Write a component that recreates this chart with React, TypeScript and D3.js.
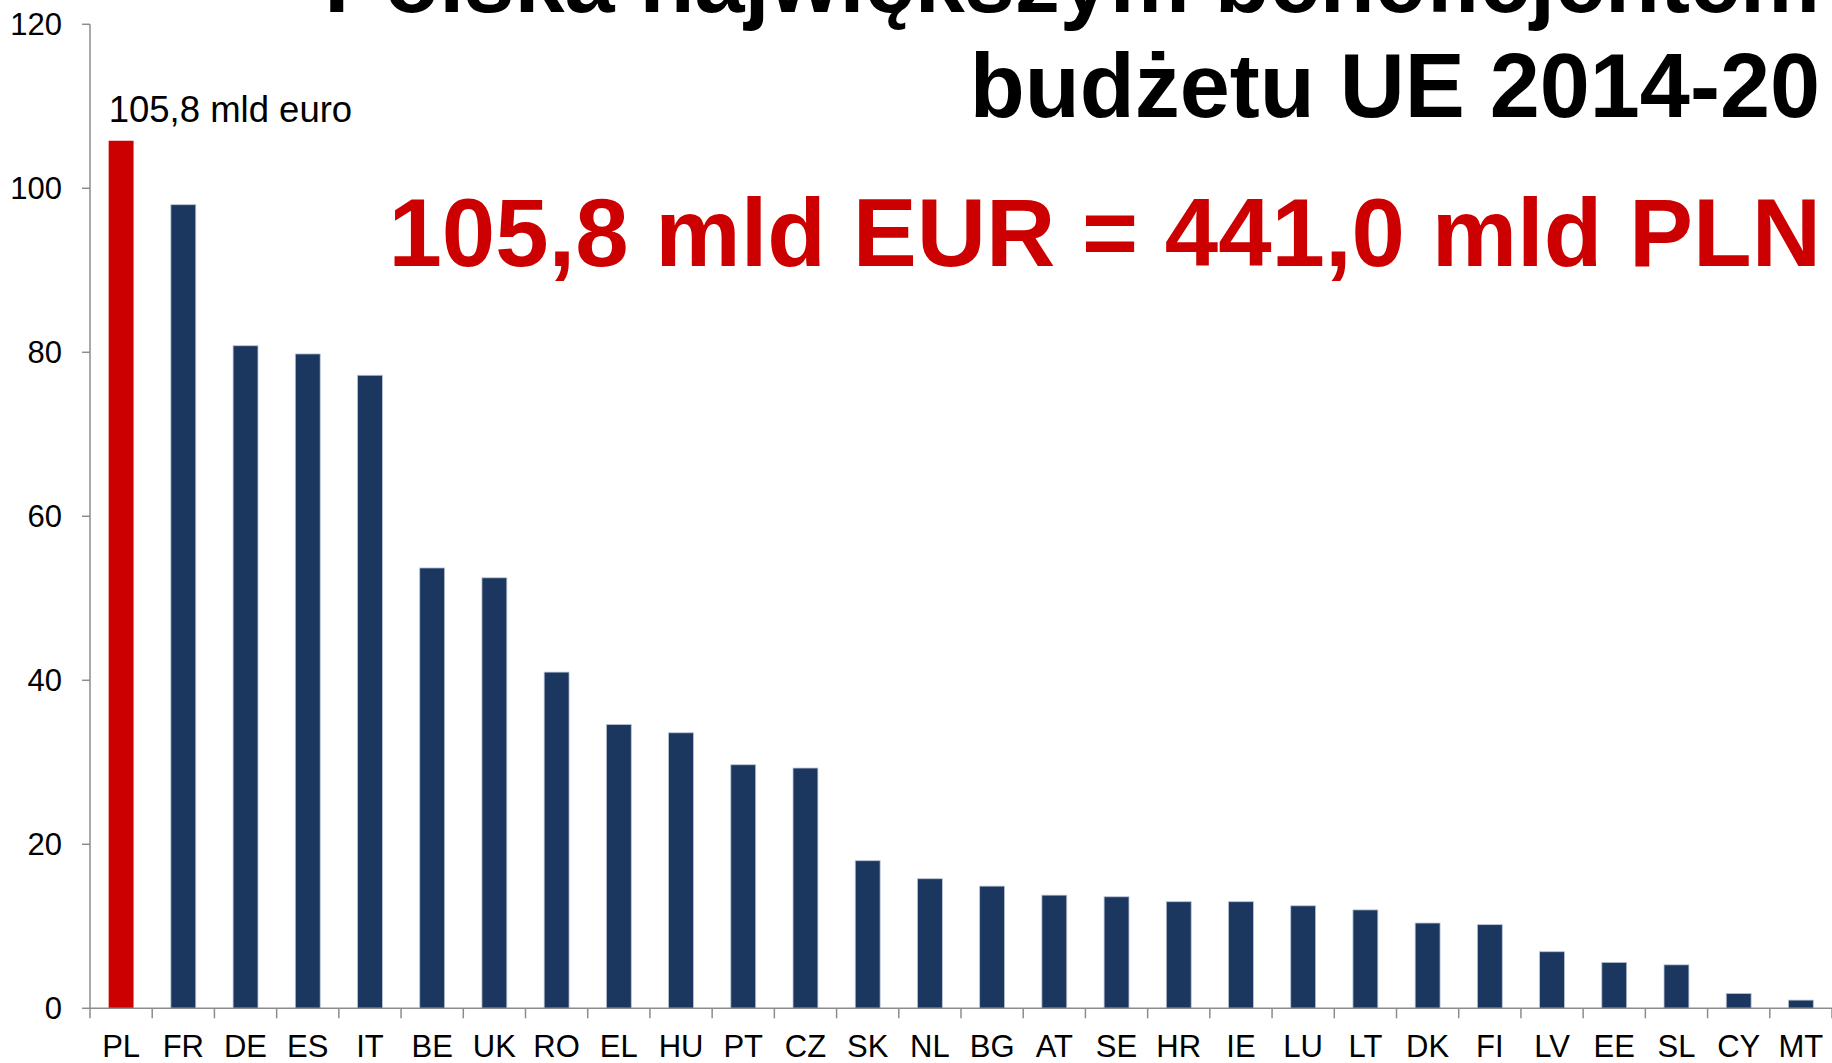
import React from "react";
import * as d3 from "d3";

const countries = ["PL","FR","DE","ES","IT","BE","UK","RO","EL","HU","PT","CZ","SK","NL","BG","AT","SE","HR","IE","LU","LT","DK","FI","LV","EE","SL","CY","MT"];
const values = [105.8,98.0,80.8,79.8,77.2,53.7,52.5,41.0,34.6,33.6,29.7,29.3,18.0,15.8,14.9,13.8,13.6,13.0,13.0,12.5,12.0,10.4,10.2,6.9,5.6,5.3,1.8,1.0];
const yTicks = [0,20,40,60,80,100,120];
const titleLines = ["Polska największym beneficjentem","budżetu UE 2014-20"];
const subtitle = "105,8 mld EUR = 441,0 mld PLN";
const annotation = "105,8 mld euro";
const highlight = "PL";

const W = 1832, H = 1063;
const left = 90, right = 1832, top = 24.3, bottom = 1008.3;
const FONT = "'Liberation Sans', Arial, sans-serif";
const NAVY = "#1B3760";
const RED = "#CC0000";
const AXIS = "#8c8c8c";

export default function App() {
  const x = d3.scaleBand<string>().domain(countries).range([left, right]).paddingInner(0.6).paddingOuter(0.3);
  const xb = d3.scaleBand<string>().domain(countries).range([left, right]);
  const y = d3.scaleLinear().domain([0, 120]).range([bottom, top]);
  const bounds = [...countries.map((c) => xb(c) as number), right];

  return (
    <svg width={W} height={H} style={{ position: "absolute", left: 0, top: 0, background: "#fff" }}>
      {countries.map((c, i) => (
        <rect
          key={c}
          x={x(c)}
          y={y(values[i])}
          width={x.bandwidth()}
          height={y(0) - y(values[i])}
          fill={c === highlight ? RED : NAVY}
          stroke={c === highlight ? "none" : "#b9c4d4"}
          strokeWidth={0.8}
        />
      ))}
      <line x1={left} x2={left} y1={y(120)} y2={y(0)} stroke={AXIS} strokeWidth={1.5} />
      {yTicks.map((t) => (
        <g key={t}>
          <line x1={left - 8} x2={left} y1={y(t)} y2={y(t)} stroke={AXIS} strokeWidth={1.5} />
          <text x={62} y={y(t)} dy="0.36em" textAnchor="end" fontFamily={FONT} fontSize={31} fill="#000">
            {t}
          </text>
        </g>
      ))}
      <line x1={left} x2={right} y1={y(0)} y2={y(0)} stroke={AXIS} strokeWidth={1.5} />
      {bounds.map((b, i) => (
        <line key={i} x1={b} x2={b} y1={y(0)} y2={y(0) + 10} stroke={AXIS} strokeWidth={1.5} />
      ))}
      {countries.map((c) => (
        <text
          key={c}
          x={(xb(c) as number) + xb.bandwidth() / 2}
          y={1056.7}
          textAnchor="middle"
          fontFamily={FONT}
          fontSize={31}
          fill="#000"
        >
          {c}
        </text>
      ))}
      <text x={x(highlight)} y={y(values[0]) - 18.5} fontFamily={FONT} fontSize={36.5} fill="#000">
        {annotation}
      </text>
      <text x={1820} y={12} textAnchor="end" fontFamily={FONT} fontWeight="bold" fontSize={90} fill="#000">
        {titleLines[0]}
      </text>
      <text x={1820} y={116.7} textAnchor="end" fontFamily={FONT} fontWeight="bold" fontSize={90} fill="#000">
        {titleLines[1]}
      </text>
      <text x={1821} y={266} textAnchor="end" fontFamily={FONT} fontWeight="bold" fontSize={96} fill={RED}>
        {subtitle}
      </text>
    </svg>
  );
}
